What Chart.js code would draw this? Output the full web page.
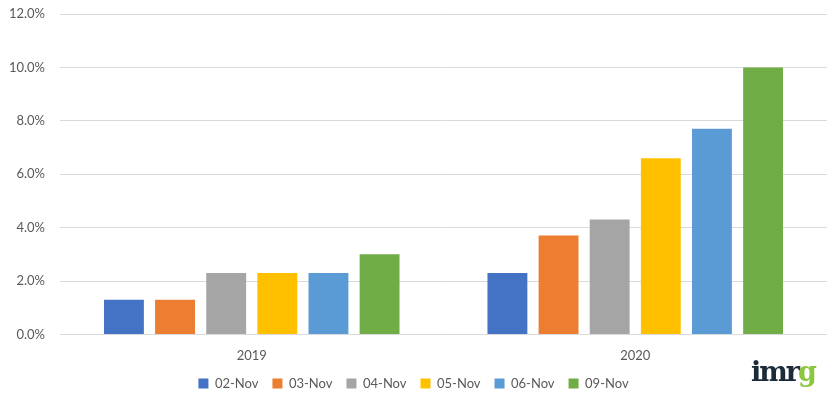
<!DOCTYPE html>
<html>
<head>
<meta charset="utf-8">
<script src="https://cdn.jsdelivr.net/npm/chart.js@4"></script>
<style>
  html, body { margin: 0; padding: 0; background: #fff; }
  #wrap { position: relative; width: 827px; height: 414px; }
  #logo {
    position: absolute; left: 751px; top: 356px;
    font-family: "DejaVu Serif", serif; font-weight: bold; font-size: 27px;
    letter-spacing: -2px; color: #1c2b3a;
  }
  #logo span { color: #8cc63f; }
</style>
</head>
<body>
<div id="wrap">
  <canvas id="chart" width="827" height="414"></canvas>
  <div id="logo">imr<span>g</span></div>
</div>
<script>
// Years along the x axis
const years = ['2019', '2020']
// One series per day, values in percent
const days = ['02-Nov', '03-Nov', '04-Nov', '05-Nov', '06-Nov', '09-Nov']
const nov02 = [1.3, 2.3]
const nov03 = [1.3, 3.7]
const nov04 = [2.3, 4.3]
const nov05 = [2.3, 6.6]
const nov06 = [2.3, 7.7]
const nov09 = [3.0, 10.0]
const colors = ['#4472C4', '#ED7D31', '#A5A5A5', '#FFC000', '#5B9BD5', '#70AD47']

const seriesValues = [nov02, nov03, nov04, nov05, nov06, nov09]
const font = { family: 'Lato, "Open Sans", sans-serif', size: 13 }

const chart = new Chart(document.getElementById('chart'), {
    type: 'bar',
    data: {
        labels: years,
        datasets: days.map((d, i) => ({
            label: d,
            data: seriesValues[i],
            backgroundColor: colors[i],
            barPercentage: 0.78,
            categoryPercentage: 0.8
        }))
    },
    options: {
        responsive: false,
        animation: false,
        layout: { padding: { left: 0, right: 0, top: 14, bottom: 14 } },
        plugins: {
            tooltip: { enabled: false },
            legend: {
                position: 'bottom',
                labels: {
                    boxWidth: 10,
                    boxHeight: 10,
                    padding: 14,
                    color: '#595959',
                    font: font
                }
            }
        },
        scales: {
            x: {
                grid: { display: false },
                border: { display: false },
                ticks: { color: '#595959', padding: 6, font: font },
                // pull the legend a bit closer to the year labels
                afterFit: s => { s.height -= 7 }
            },
            y: {
                min: 0,
                max: 12,
                grid: { color: '#d9d9d9', drawTicks: false },
                border: { display: false },
                ticks: {
                    stepSize: 2,
                    padding: 15,
                    color: '#595959',
                    font: font,
                    callback: v => v.toFixed(1) + '%'
                },
                afterFit: s => { s.width = 60; s.paddingTop = 0 }
            }
        }
    }
})
</script>
</body>
</html>
